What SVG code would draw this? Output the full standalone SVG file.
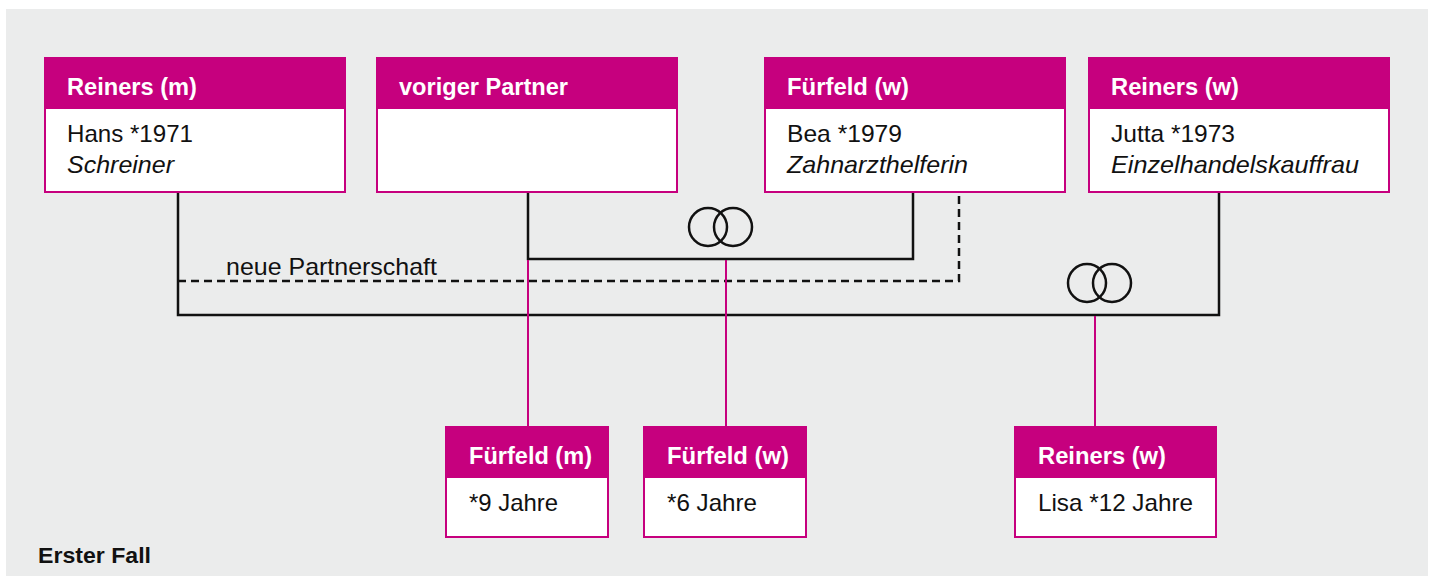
<svg xmlns="http://www.w3.org/2000/svg" width="1433" height="577" viewBox="0 0 1433 577">
<style>
.box{fill:#fff;stroke:#C6007E;stroke-width:2}
.hd{fill:#C6007E}
.t{font-family:"Liberation Sans",Arial,sans-serif;font-size:24px;fill:#111}
.h{font-family:"Liberation Sans",Arial,sans-serif;font-size:24px;font-weight:bold;fill:#fff}
.i{font-style:italic}
.ln{fill:none;stroke:#111;stroke-width:2.5}
.dash{fill:none;stroke:#111;stroke-width:2.5;stroke-dasharray:8 5}
.mg{fill:none;stroke:#C6007E;stroke-width:2}
.ring{fill:none;stroke:#111;stroke-width:2.5}
</style>
<rect x="0" y="0" width="1433" height="577" fill="#fff"/>
<rect x="6" y="9" width="1422" height="567" fill="#EBECEC"/>

<g id="connectors">
  <polyline class="ln" points="178,193 178,315 1219,315 1219,193"/>
  <polyline class="ln" points="528,193 528,259 913,259 913,193"/>
  <polyline class="dash" points="178,281 959,281 959,193"/>
  <line class="mg" x1="528" y1="260" x2="528" y2="426"/>
  <line class="mg" x1="726" y1="260" x2="726" y2="426"/>
  <line class="mg" x1="1095" y1="316" x2="1095" y2="426"/>
  <circle class="ring" cx="708" cy="227" r="19"/>
  <circle class="ring" cx="733" cy="227" r="19"/>
  <circle class="ring" cx="1087" cy="283" r="19"/>
  <circle class="ring" cx="1112" cy="283" r="19"/>
  <text class="t" x="226" y="275" textLength="211" lengthAdjust="spacingAndGlyphs">neue Partnerschaft</text>
</g>

<g id="reiners-m">
  <rect class="box" x="45" y="58" width="300" height="134"/>
  <rect class="hd" x="44" y="57" width="302" height="52"/>
  <text class="h" x="67" y="95" textLength="130" lengthAdjust="spacingAndGlyphs">Reiners (m)</text>
  <text class="t" x="67" y="142" textLength="126" lengthAdjust="spacingAndGlyphs">Hans *1971</text>
  <text class="t i" x="67" y="173" textLength="107" lengthAdjust="spacingAndGlyphs">Schreiner</text>
</g>

<g id="voriger-partner">
  <rect class="box" x="377" y="58" width="300" height="134"/>
  <rect class="hd" x="376" y="57" width="302" height="52"/>
  <text class="h" x="399" y="95" textLength="169" lengthAdjust="spacingAndGlyphs">voriger Partner</text>
</g>

<g id="fuerfeld-w">
  <rect class="box" x="765" y="58" width="300" height="134"/>
  <rect class="hd" x="764" y="57" width="302" height="52"/>
  <text class="h" x="787" y="95" textLength="122" lengthAdjust="spacingAndGlyphs">Fürfeld (w)</text>
  <text class="t" x="787" y="142" textLength="115" lengthAdjust="spacingAndGlyphs">Bea *1979</text>
  <text class="t i" x="787" y="173" textLength="181" lengthAdjust="spacingAndGlyphs">Zahnarzthelferin</text>
</g>

<g id="reiners-w">
  <rect class="box" x="1089" y="58" width="300" height="134"/>
  <rect class="hd" x="1088" y="57" width="302" height="52"/>
  <text class="h" x="1111" y="95" textLength="128" lengthAdjust="spacingAndGlyphs">Reiners (w)</text>
  <text class="t" x="1111" y="142" textLength="124" lengthAdjust="spacingAndGlyphs">Jutta *1973</text>
  <text class="t i" x="1111" y="173" textLength="248" lengthAdjust="spacingAndGlyphs">Einzelhandelskauffrau</text>
</g>

<g id="child-fuerfeld-m">
  <rect class="box" x="446" y="427" width="162" height="110"/>
  <rect class="hd" x="445" y="426" width="164" height="52"/>
  <text class="h" x="469" y="464" textLength="123" lengthAdjust="spacingAndGlyphs">Fürfeld (m)</text>
  <text class="t" x="469" y="511" textLength="89" lengthAdjust="spacingAndGlyphs">*9 Jahre</text>
</g>

<g id="child-fuerfeld-w">
  <rect class="box" x="644" y="427" width="162" height="110"/>
  <rect class="hd" x="643" y="426" width="164" height="52"/>
  <text class="h" x="667" y="464" textLength="122" lengthAdjust="spacingAndGlyphs">Fürfeld (w)</text>
  <text class="t" x="667" y="511" textLength="90" lengthAdjust="spacingAndGlyphs">*6 Jahre</text>
</g>

<g id="child-reiners-w">
  <rect class="box" x="1015" y="427" width="201" height="110"/>
  <rect class="hd" x="1014" y="426" width="203" height="52"/>
  <text class="h" x="1038" y="464" textLength="128" lengthAdjust="spacingAndGlyphs">Reiners (w)</text>
  <text class="t" x="1038" y="511" textLength="155" lengthAdjust="spacingAndGlyphs">Lisa *12 Jahre</text>
</g>

<g id="caption">
  <text x="38" y="563" font-family="Liberation Sans, Arial, sans-serif" font-size="22" font-weight="bold" fill="#111" textLength="113" lengthAdjust="spacingAndGlyphs">Erster Fall</text>
</g>
</svg>
